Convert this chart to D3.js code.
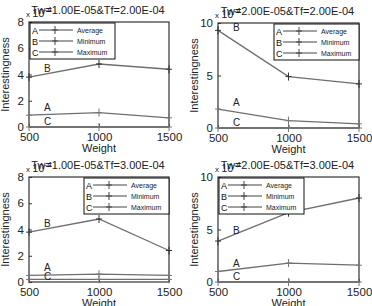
<!DOCTYPE html>
<html>
<head>
<meta charset="utf-8">
<script src="https://cdn.jsdelivr.net/npm/d3@7"></script>
<style>
  body { margin: 0; background: #fff; }
  svg { font-family: "Liberation Sans", Arial, sans-serif; }
</style>
</head>
<body>
<svg id="chart" width="372" height="306"></svg>
<script>
// data, in units of 1e-4
const weights = [500, 1000, 1500];
const titles = ["Tw=1.00E-05&Tf=2.00E-04", "Tw=2.00E-05&Tf=2.00E-04",
                "Tw=1.00E-05&Tf=3.00E-04", "Tw=2.00E-05&Tf=3.00E-04"];
const yMax = [8, 10, 8, 10];
const yTicks = [[0, 2, 4, 6, 8], [0, 5, 10], [0, 2, 4, 6, 8], [0, 5, 10]];
const averageA = [[0.9, 1.1, 0.7], [1.8, 0.7, 0.4], [0.5, 0.6, 0.5], [1.0, 1.8, 1.6]];
const minimumB = [[3.8, 4.8, 4.4], [9.3, 4.9, 4.2], [3.8, 4.8, 2.4], [3.9, 6.6, 8.0]];
const maximumC = [[0, 0, 0], [0, 0, 0], [0.2, 0.2, 0.2], [0, 0, 0]];
const seriesNames = ["Average", "Minimum", "Maximum"];
const seriesLetters = ["A", "B", "C"];

// panel frames (layout only)
const frames = [
  {x0: 29, x1: 169, y0: 22, y1: 127, legend: "left"},
  {x0: 218, x1: 359, y0: 23, y1: 128, legend: "right"},
  {x0: 29, x1: 169, y0: 177, y1: 282, legend: "right"},
  {x0: 218, x1: 359, y0: 177, y1: 282, legend: "left"}
];

const svg = d3.select("#chart");
const lineCol = "#6e6e6e";
const axisCol = "#333";

function plus(g, x, y, col) {
  g.append("line").attr("x1", x - 3).attr("x2", x + 3).attr("y1", y).attr("y2", y)
    .attr("stroke", col).attr("stroke-width", 1);
  g.append("line").attr("x1", x).attr("x2", x).attr("y1", y - 4).attr("y2", y + 4)
    .attr("stroke", col).attr("stroke-width", 1);
}

frames.forEach((f, i) => {
  const g = svg.append("g");
  const x = d3.scaleLinear().domain([500, 1500]).range([f.x0, f.x1]);
  const y = d3.scaleLinear().domain([0, yMax[i]]).range([f.y1, f.y0]);

  // axes with inward ticks, matlab style
  g.append("g").attr("transform", `translate(0,${f.y1})`)
    .call(d3.axisBottom(x).tickValues(weights).tickFormat(d3.format("d"))
      .tickSizeInner(-3).tickSizeOuter(0).tickPadding(6))
    .call(a => a.select(".domain").remove())
    .call(a => a.selectAll("text").attr("font-size", 11.5).attr("fill", "#222").attr("font-family", null))
    .call(a => a.selectAll("line").attr("stroke", axisCol));
  g.append("g").attr("transform", `translate(${f.x0},0)`)
    .call(d3.axisLeft(y).tickValues(yTicks[i]).tickSizeInner(-3).tickSizeOuter(0).tickPadding(5))
    .call(a => a.select(".domain").remove())
    .call(a => a.selectAll("text").attr("font-size", 11.5).attr("fill", "#222").attr("font-family", null))
    .call(a => a.selectAll("line").attr("stroke", axisCol));

  g.append("rect").attr("x", f.x0).attr("y", f.y0)
    .attr("width", f.x1 - f.x0).attr("height", f.y1 - f.y0)
    .attr("fill", "none").attr("stroke", axisCol).attr("stroke-width", 1.2);

  // series
  const all = [averageA[i], minimumB[i], maximumC[i]];
  const line = d3.line().x((d, j) => x(weights[j])).y(d => y(d));
  all.forEach((vals, s) => {
    g.append("path").attr("d", line(vals)).attr("fill", "none")
      .attr("stroke", lineCol).attr("stroke-width", 1.3);
    vals.forEach((v, j) => plus(g, x(weights[j]), y(v), s === 1 ? "#333" : "#777"));
    // letter label near start
    const lx = x(500) + 15;
    const ly = y(vals[0] + (vals[1] - vals[0]) * 0.1) - 4;
    g.append("text").attr("x", lx).attr("y", s === 2 ? f.y1 - 2 : ly)
      .attr("font-size", 10).attr("fill", "#222").text(seriesLetters[s]);
  });

  // legend
  const lw = 85, lh = 36;
  const lx0 = f.legend === "left" ? f.x0 + 1 : f.x1 - lw;
  const ly0 = f.y0 + 1;
  const lg = g.append("g");
  lg.append("rect").attr("x", lx0).attr("y", ly0).attr("width", lw).attr("height", lh)
    .attr("fill", "#fff").attr("stroke", "#111").attr("stroke-width", 1);
  seriesNames.forEach((n, s) => {
    const ry = ly0 + 7 + s * 11;
    lg.append("text").attr("x", lx0 + 2).attr("y", ry + 3.5).attr("font-size", 9)
      .attr("fill", "#111").text(seriesLetters[s]);
    lg.append("line").attr("x1", lx0 + 9).attr("x2", lx0 + 43).attr("y1", ry).attr("y2", ry)
      .attr("stroke", "#444").attr("stroke-width", 1);
    plus(lg, lx0 + 25, ry, "#444");
    lg.append("text").attr("x", lx0 + 47).attr("y", ry + 2.5).attr("font-size", 7)
      .attr("fill", "#222").text(n);
  });

  // title and exponent label (they overlap in the original too)
  g.append("text").attr("x", (f.x0 + f.x1) / 2 - 1).attr("y", f.y0 - 8)
    .attr("text-anchor", "middle").attr("font-size", 11).attr("fill", "#222").text(titles[i]);
  const ex = g.append("text").attr("x", f.x0 - 3).attr("y", f.y0 - 5).attr("fill", "#222");
  ex.append("tspan").attr("font-size", 8).text("x ");
  ex.append("tspan").attr("font-size", 11).text("10");
  ex.append("tspan").attr("font-size", 8).attr("dy", -5).text("-4");

  // axis titles
  g.append("text").attr("x", (f.x0 + f.x1) / 2).attr("y", f.y1 + 25)
    .attr("text-anchor", "middle").attr("font-size", 11).attr("fill", "#222").text("Weight");
  g.append("text").attr("transform", `translate(${f.x0 - 20},${(f.y0 + f.y1) / 2}) rotate(-90)`)
    .attr("text-anchor", "middle").attr("font-size", 11).attr("fill", "#222").text("Interestingness");
});
</script>
</body>
</html>
